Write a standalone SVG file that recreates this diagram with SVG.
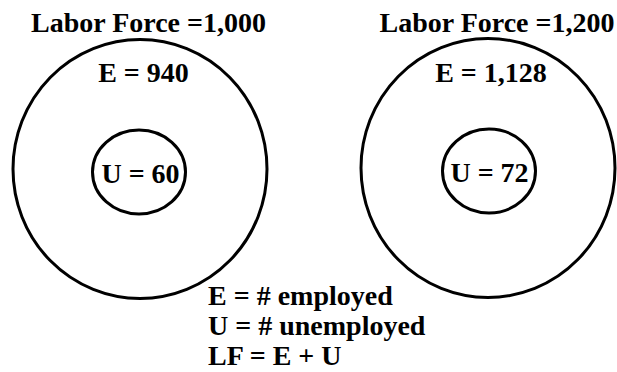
<svg xmlns="http://www.w3.org/2000/svg" width="617" height="372" viewBox="0 0 617 372">
<style>
.t{font-family:"Liberation Serif","Times New Roman",serif;font-weight:bold;font-size:28px;fill:#000}
.m{text-anchor:middle}
.c{fill:none;stroke:#000;stroke-width:3}
</style>
<rect width="617" height="372" fill="#fff"/>
<g id="lf1">
<text class="t m" x="148.5" y="32">Labor Force =1,000</text>
</g>
<g id="lf2">
<text class="t m" x="497" y="32">Labor Force =1,200</text>
</g>
<g id="outer1">
<ellipse class="c" cx="140" cy="169" rx="127" ry="129.5"/>
<text class="t m" x="143.5" y="82">E = 940</text>
</g>
<g id="inner1">
<ellipse class="c" cx="139" cy="172" rx="46.5" ry="42"/>
<text class="t m" x="140.5" y="183">U = 60</text>
</g>
<g id="outer2">
<ellipse class="c" cx="488" cy="168" rx="127" ry="129.5"/>
<text class="t m" x="491" y="82">E = 1,128</text>
</g>
<g id="inner2">
<ellipse class="c" cx="489" cy="171" rx="46.5" ry="42"/>
<text class="t m" x="489.5" y="182">U = 72</text>
</g>
<g id="legend">
<text class="t" x="208" y="305">E = # employed</text>
<text class="t" x="208" y="335">U = # unemployed</text>
<text class="t" x="208" y="365">LF = E + U</text>
</g>
<g id="connectors"></g>
</svg>
